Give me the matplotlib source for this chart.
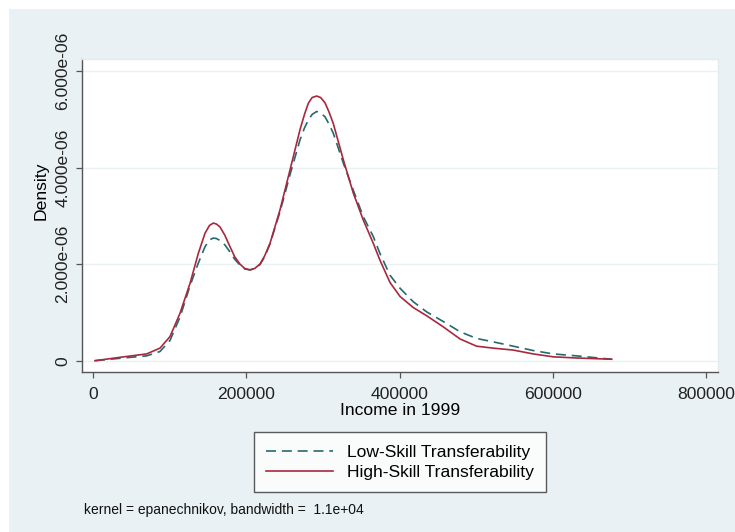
import matplotlib
matplotlib.use('Agg')
import matplotlib.pyplot as plt
from matplotlib.patches import Rectangle

income = [2600, 35200, 70000, 87400, 100500, 113500, 126600, 137400,
          146200, 152000, 157000, 161000, 165700, 172000, 178800, 185000,
          191800, 198000, 204900, 211000, 217900, 224000, 231000, 244000,
          257100, 270100, 276000, 281000, 286000, 291900, 297000, 302800,
          308000, 313600, 326700, 339700, 352800, 365800, 374500, 387600,
          400700, 418000, 435500, 457200, 479000, 500700, 522400, 548500,
          574600, 600700, 631300, 677000]

# densities in units of 1e-06
low_skill = [0.0, 0.05, 0.10, 0.19, 0.42, 0.90, 1.55, 2.02,
             2.36, 2.50, 2.54, 2.53, 2.49, 2.40, 2.25, 2.10,
             1.98, 1.90, 1.88, 1.91, 1.99, 2.15, 2.42, 3.08,
             3.85, 4.57, 4.82, 4.98, 5.10, 5.16, 5.13, 5.05,
             4.90, 4.71, 4.09, 3.53, 2.98, 2.57, 2.22, 1.77,
             1.50, 1.22, 1.01, 0.81, 0.60, 0.46, 0.39, 0.30,
             0.21, 0.14, 0.10, 0.03]
high_skill = [0.0, 0.07, 0.14, 0.26, 0.50, 0.98, 1.60, 2.22,
              2.64, 2.80, 2.85, 2.83, 2.77, 2.60, 2.36, 2.15,
              2.00, 1.91, 1.88, 1.91, 2.00, 2.17, 2.43, 3.12,
              3.95, 4.78, 5.10, 5.33, 5.45, 5.48, 5.45, 5.34,
              5.15, 4.91, 4.16, 3.47, 2.91, 2.43, 2.08, 1.62,
              1.33, 1.10, 0.93, 0.70, 0.45, 0.30, 0.26, 0.22,
              0.14, 0.08, 0.056, 0.03]

x_ticks = [0, 200000, 400000, 600000, 800000]
y_ticks = [0, 2e-06, 4e-06, 6e-06]
y_tick_labels = ['0', '2.000e-06', '4.000e-06', '6.000e-06']

W, H = 735, 532
BG = '#e9f1f4'
FS = 12.6

plt.rcParams['font.family'] = ['Liberation Sans', 'DejaVu Sans']

fig = plt.figure(figsize=(W / 100, H / 100), dpi=100, facecolor='white')
fig.patches.append(Rectangle((9 / W, 0), 1 - 9 / W, 1 - 9 / H,
                             transform=fig.transFigure, facecolor=BG,
                             edgecolor='none', zorder=-10))

ax = fig.add_axes([82 / W, 1 - 372 / H, (718 - 82) / W, (372 - 59) / H])
ax.set_facecolor('white')

scale = 1e-06
ax.plot(income, [v * scale for v in low_skill], color='#236b6e', lw=1.2,
        dashes=(6, 3.5), label='Low-Skill Transferability')
ax.plot(income, [v * scale for v in high_skill], color='#a8283c', lw=1.2,
        label='High-Skill Transferability')

ax.set_xlim(-14355, 815660)
ax.set_ylim(-2.34e-07, 6.247e-06)

ax.set_xticks(x_ticks)
ax.set_xticklabels([str(t) for t in x_ticks], fontsize=FS, color='#222222')
ax.set_yticks(y_ticks)
ax.set_yticklabels(y_tick_labels, fontsize=FS, color='#222222',
                   rotation=90, va='center')
ax.tick_params(axis='both', direction='out', length=4, width=0.9,
               color='#555555')
ax.tick_params(axis='x', pad=6.5)
ax.tick_params(axis='y', pad=4.5)

ax.grid(axis='y', color='#eaf1f3', lw=1.0)
ax.set_axisbelow(True)

for side in ['left', 'bottom']:
    ax.spines[side].set_color('#555555')
    ax.spines[side].set_linewidth(1.0)
for side in ['top', 'right']:
    ax.spines[side].set_color('#e2ecef')
    ax.spines[side].set_linewidth(1.0)

ax.set_xlabel('Income in 1999', fontsize=FS, labelpad=1)
ax.set_ylabel('Density', fontsize=FS)
ax.yaxis.set_label_coords(-0.053, 0.58)

leg = fig.legend(loc='upper center', bbox_to_anchor=(400 / W, 1 - 431.7 / H),
                 ncol=1, fontsize=FS, frameon=True, fancybox=False,
                 handlelength=3.8, handletextpad=0.8, borderpad=0.73,
                 labelspacing=0.27, borderaxespad=0)
leg.get_frame().set_edgecolor('#333333')
leg.get_frame().set_linewidth(1.0)
leg.get_frame().set_facecolor('white')

fig.text(84 / W, 1 - 514 / H,
         'kernel = epanechnikov, bandwidth =  1.1e+04',
         fontsize=10, va='baseline', ha='left', color='#111111')

fig.savefig('out.png', dpi=100, facecolor=fig.get_facecolor())
